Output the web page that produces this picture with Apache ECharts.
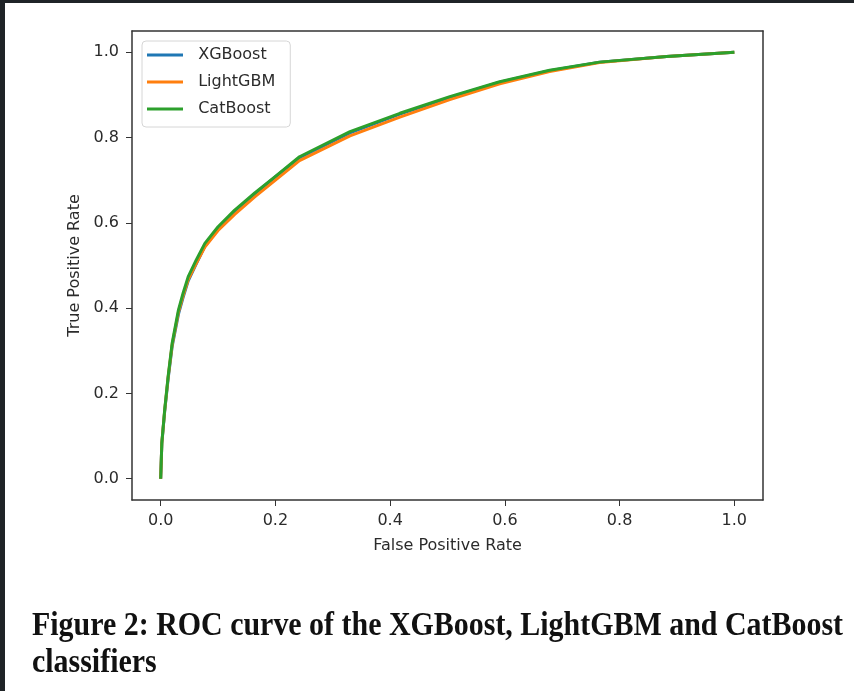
<!DOCTYPE html>
<html>
<head>
<meta charset="utf-8">
<script src="https://cdn.jsdelivr.net/npm/echarts@6.0.0/dist/echarts.min.js"></script>
<style>
  html, body { margin: 0; padding: 0; background: #1f2327; width: 854px; height: 691px; overflow: hidden; }
  #chart { position: absolute; left: 5px; top: 3px; width: 849px; height: 688px; background: #fff; }
</style>
</head>
<body>
<div id="chart"></div>
<script>
// false positive rate, shared by the three curves
const fpr = [0, 0.002, 0.007, 0.013, 0.020, 0.031, 0.039, 0.048, 0.062, 0.077, 0.100, 0.129,
  0.164, 0.199, 0.242, 0.330, 0.417, 0.504, 0.591, 0.678, 0.765, 0.882, 1.0];
const tprXGBoost = [0, 0.082, 0.158, 0.234, 0.310, 0.386, 0.425, 0.464, 0.504, 0.545, 0.586, 0.627,
  0.668, 0.707, 0.753, 0.811, 0.855, 0.894, 0.930, 0.957, 0.977, 0.990, 1.0];
const tprLightGBM = [0, 0.084, 0.160, 0.238, 0.314, 0.391, 0.429, 0.467, 0.505, 0.543, 0.582, 0.620,
  0.661, 0.699, 0.746, 0.804, 0.848, 0.889, 0.926, 0.955, 0.976, 0.990, 1.0];
const tprCatBoost = [0, 0.084, 0.162, 0.240, 0.318, 0.396, 0.435, 0.474, 0.513, 0.552, 0.591, 0.630,
  0.670, 0.708, 0.755, 0.814, 0.857, 0.896, 0.931, 0.958, 0.977, 0.990, 1.0];

const modelNames = ['XGBoost', 'LightGBM', 'CatBoost'];
const modelColors = ['#1f77b4', '#ff7f0e', '#2ca02c'];
const tickValues = [0, 0.2, 0.4, 0.6, 0.8, 1.0];
const xAxisName = 'False Positive Rate';
const yAxisName = 'True Positive Rate';
const captionLines = ['Figure 2: ROC curve of the XGBoost, LightGBM and CatBoost', 'classifiers'];

const font = 'DejaVu Sans';
const textColor = '#2b2b2b';
const frameColor = '#333';
const axisMin = -0.05;
const axisMax = 1.05;
const tickLen = 6;
const captionFont = 'bold 33px "Liberation Serif"';

// squeeze the caption to the width it has in the picture
const measure = document.createElement('canvas').getContext('2d');
measure.font = captionFont;
const captionScale = 811 / measure.measureText(captionLines[0]).width;

const myChart = echarts.init(document.getElementById('chart'));

const tprs = [tprXGBoost, tprLightGBM, tprCatBoost];

// main axis: frame line, outward ticks, labels and name
function makeAxis(position, name, nameGap) {
  return {
    type: 'value',
    position: position,
    min: axisMin,
    max: axisMax,
    name: name,
    nameGap: nameGap,
    nameLocation: 'middle',
    nameTextStyle: { fontFamily: font, fontSize: 16, color: textColor },
    axisLine: { show: true, onZero: false, lineStyle: { color: frameColor, width: 1.5 } },
    splitLine: { show: false },
    axisTick: { show: true, length: tickLen, customValues: tickValues.slice() },
    axisLabel: {
      customValues: tickValues.slice(),
      margin: 13,
      fontFamily: font,
      fontSize: 16,
      color: textColor,
      formatter: (v) => v.toFixed(1)
    }
  };
}

// opposite side: only the frame line
function makeFrameAxis(position) {
  return {
    type: 'value',
    position: position,
    min: axisMin,
    max: axisMax,
    axisLine: { show: true, onZero: false, lineStyle: { color: frameColor, width: 1.5 } },
    axisTick: { show: false },
    axisLabel: { show: false },
    splitLine: { show: false }
  };
}

const option = {
  animation: false,
  grid: {
    left: 127,
    top: 28,
    right: 91,
    bottom: 191,
    show: false
  },
  legend: {
    orient: 'vertical',
    left: 137,
    top: 38,
    data: modelNames,
    icon: 'rect',
    itemWidth: 36,
    itemHeight: 3,
    itemGap: 9,
    padding: [5, 15, 9, 5],
    borderColor: '#d6d6d6',
    borderWidth: 1,
    borderRadius: 4,
    formatter: (name) => '  ' + name,
    textStyle: { fontFamily: font, fontSize: 16, color: textColor, lineHeight: 18 }
  },
  xAxis: [makeAxis('bottom', xAxisName, 38), makeFrameAxis('top')],
  yAxis: [makeAxis('left', yAxisName, 46), makeFrameAxis('right')],
  series: modelNames.map((name, i) => ({
    name: name,
    type: 'line',
    symbol: 'none',
    smooth: false,
    color: modelColors[i],
    lineStyle: { width: 3, color: modelColors[i], join: 'round' },
    data: fpr.map((x, j) => [x, tprs[i][j]])
  })),
  graphic: captionLines.map((line, i) => ({
    type: 'text',
    x: 27,
    y: i === 0 ? 623 : 660,
    scaleX: captionScale,
    style: {
      text: line,
      font: captionFont,
      fill: '#111',
      verticalAlign: 'middle'
    }
  }))
};

option && myChart.setOption(option);
</script>
</body>
</html>
